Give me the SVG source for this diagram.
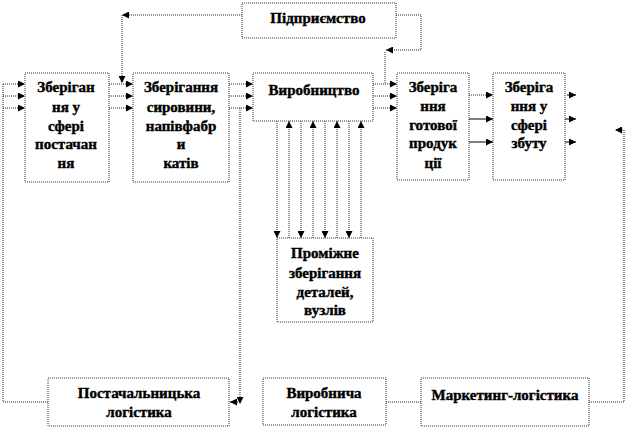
<svg xmlns="http://www.w3.org/2000/svg" width="626" height="429" viewBox="0 0 626 429">
<defs>
<marker id="ah" viewBox="0 0 8 8" refX="8" refY="4" markerWidth="7" markerHeight="7" markerUnits="userSpaceOnUse" orient="auto">
<path d="M0,0 L8,4 L0,8 z" fill="#000"/>
</marker>
</defs>
<style>
.box{fill:#fff;stroke:#333;stroke-width:1;stroke-dasharray:1 1}
.ln{fill:none;stroke:#222;stroke-width:1;stroke-dasharray:1 1}
.sl{fill:none;stroke:#000;stroke-width:1}
.ar{marker-end:url(#ah)}
.t{font-family:'Liberation Serif','DejaVu Serif',serif;font-weight:bold;font-size:15px;fill:#000;text-anchor:middle;stroke:#000;stroke-width:0.4}
</style>
<rect width="626" height="429" fill="#fff"/>
<g id="connectors">
<path class="ln ar" d="M242,15 H122"/>
<path class="ln ar" d="M122,15 V83"/>
<path class="ln ar" d="M396,15 H421 V50 H386"/>
<path class="ln" d="M385,52 V84"/>
<path class="ln" d="M3,84 V402 H48"/>
<path class="ln ar" d="M3,84 H25"/>
<path class="ln ar" d="M3,96 H25"/>
<path class="ln ar" d="M3,108 H25"/>
<path class="ln ar" d="M109,84 H133"/>
<path class="ln ar" d="M109,96 H133"/>
<path class="ln ar" d="M109,108 H133"/>
<path class="ln ar" d="M229,84 H253"/>
<path class="ln ar" d="M229,96 H253"/>
<path class="ln ar" d="M229,108 H253"/>
<path class="ln ar" d="M373,84 H397"/>
<path class="ln ar" d="M373,96 H397"/>
<path class="ln ar" d="M373,108 H397"/>
<path class="ln ar" d="M469,95 H493"/>
<path class="sl ar" d="M469,119 H493"/>
<path class="sl ar" d="M469,142 H493"/>
<path class="sl ar" d="M567,95 H576"/>
<path class="sl ar" d="M565,119 H576"/>
<path class="sl ar" d="M565,142 H576"/>
<path class="ln ar" d="M240,108 V404"/>
<path class="sl ar" d="M238,402 H230"/>
<path class="ln" d="M386,402 H421"/>
<path class="ln ar" d="M589,402 H624 V130 H615"/>
<path class="ln ar" d="M277,121 V238"/>
<path class="ln ar" d="M289,238 V121"/>
<path class="ln ar" d="M301,121 V238"/>
<path class="ln ar" d="M313,238 V121"/>
<path class="ln ar" d="M325,121 V238"/>
<path class="ln ar" d="M337,238 V121"/>
<path class="ln ar" d="M349,121 V238"/>
<path class="ln ar" d="M361,238 V121"/>
</g>
<g id="pidpryiemstvo">
<rect class="box" x="242" y="3" width="154" height="35"/>
<text class="t" x="318" y="23">Підприємство</text>
</g>
<g id="zberigannia-postachannia">
<rect class="box" x="25" y="73" width="84" height="109"/>
<text class="t" x="66" y="92">Зберіган</text>
<text class="t" x="66" y="112">ня у</text>
<text class="t" x="66" y="131">сфері</text>
<text class="t" x="66" y="149">постачан</text>
<text class="t" x="66" y="168">ня</text>
</g>
<g id="zberigannia-syrovyny">
<rect class="box" x="133" y="73" width="96" height="109"/>
<text class="t" x="181" y="92">Зберігання</text>
<text class="t" x="181" y="112">сировини,</text>
<text class="t" x="181" y="131">напівфабр</text>
<text class="t" x="181" y="149">и</text>
<text class="t" x="181" y="168">катів</text>
</g>
<g id="vyrobnytstvo">
<rect class="box" x="253" y="73" width="120" height="48"/>
<text class="t" x="314" y="95">Виробництво</text>
</g>
<g id="zberigannia-hotovoi">
<rect class="box" x="397" y="73" width="72" height="107"/>
<text class="t" x="433" y="92">Зберіга</text>
<text class="t" x="433" y="111">ння</text>
<text class="t" x="433" y="130">готової</text>
<text class="t" x="433" y="148">продук</text>
<text class="t" x="433" y="168">ції</text>
</g>
<g id="zberigannia-zbutu">
<rect class="box" x="493" y="73" width="72" height="107"/>
<text class="t" x="529" y="92">Зберіга</text>
<text class="t" x="529" y="111">ння у</text>
<text class="t" x="529" y="130">сфері</text>
<text class="t" x="529" y="148">збуту</text>
</g>
<g id="promizhne">
<rect class="box" x="277" y="238" width="96" height="84"/>
<text class="t" x="325" y="258">Проміжне</text>
<text class="t" x="325" y="278">зберігання</text>
<text class="t" x="325" y="297">деталей,</text>
<text class="t" x="325" y="315">вузлів</text>
</g>
<g id="postachalnytska">
<rect class="box" x="48" y="378" width="181" height="48"/>
<text class="t" x="139" y="398">Постачальницька</text>
<text class="t" x="139" y="417">логістика</text>
</g>
<g id="vyrobnycha">
<rect class="box" x="263" y="378" width="123" height="47"/>
<text class="t" x="324" y="398">Виробнича</text>
<text class="t" x="324" y="417">логістика</text>
</g>
<g id="marketynh">
<rect class="box" x="421" y="378" width="168" height="48"/>
<text class="t" x="505" y="400">Маркетинг-логістика</text>
</g>
</svg>
